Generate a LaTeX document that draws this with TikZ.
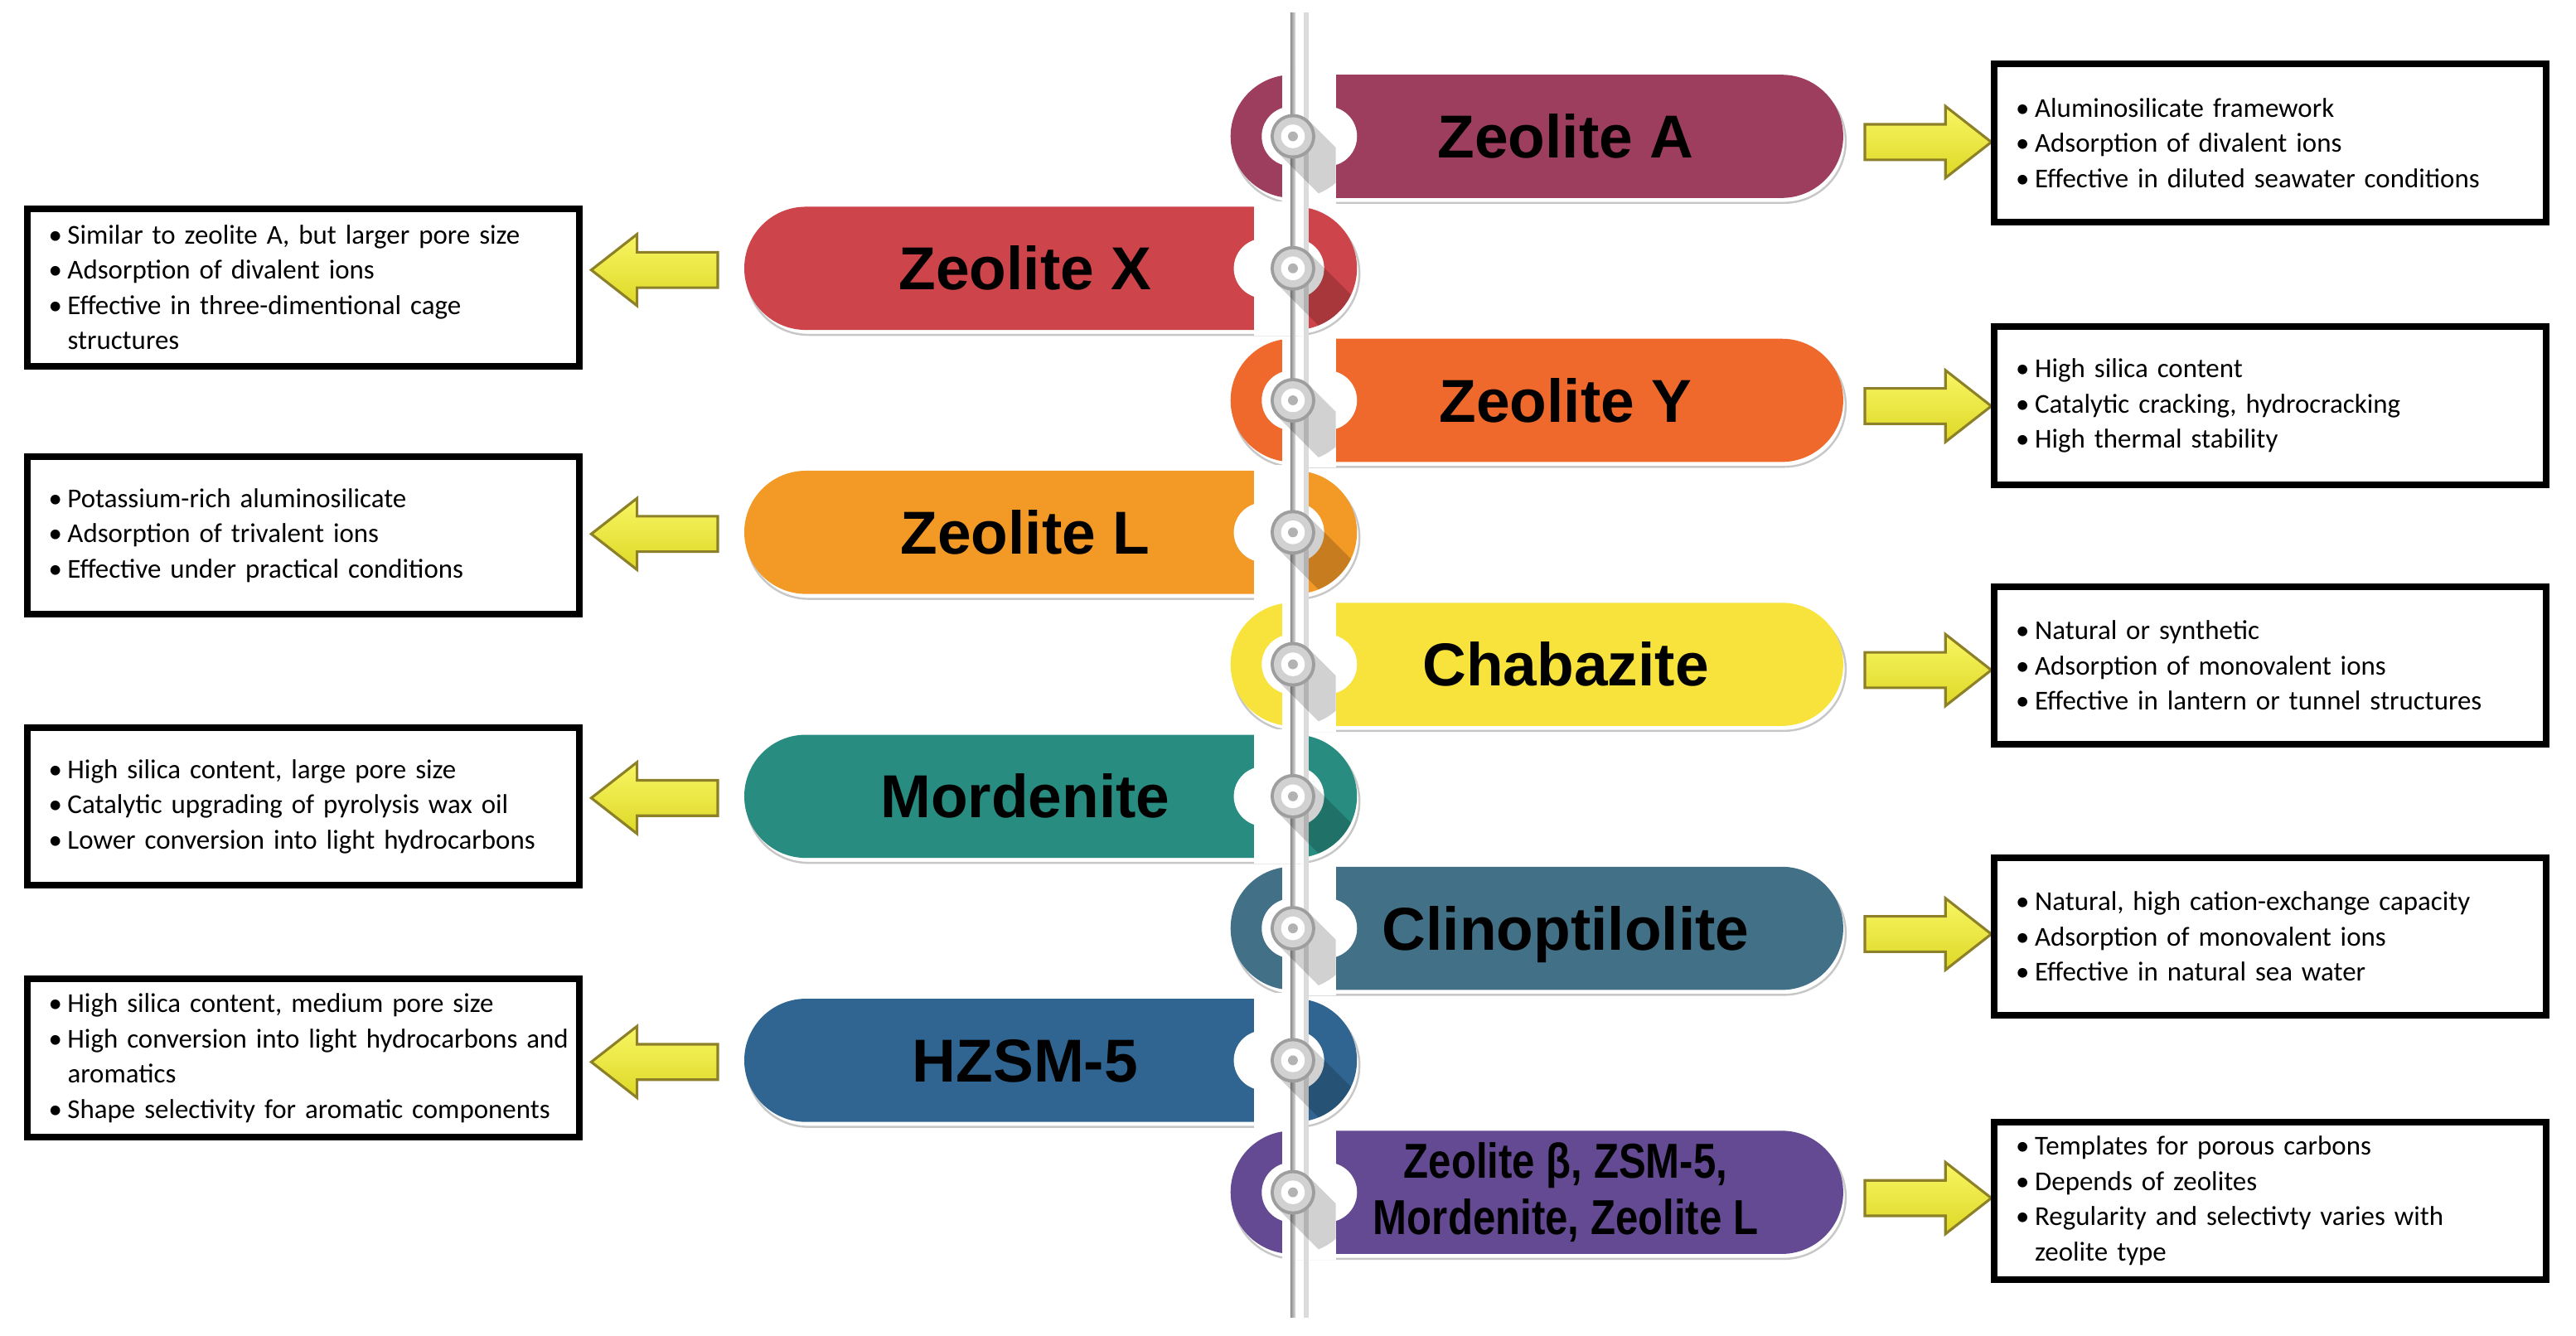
\documentclass[tikz,border=0pt]{standalone}
\usepackage{fontspec}
\setmainfont{Carlito}
\newfontfamily\titlefont{Liberation Sans}
\usepackage{tikz}
\usetikzlibrary{calc}
\usetikzlibrary{shapes.misc}
\usetikzlibrary{shapes.arrows}
\usetikzlibrary{positioning}

\definecolor{zeoA}{RGB}{158,62,94}
\definecolor{zeoX}{RGB}{205,68,74}
\definecolor{zeoY}{RGB}{238,105,43}
\definecolor{zeoL}{RGB}{243,153,38}
\definecolor{zeoC}{RGB}{248,226,60}
\definecolor{zeoM}{RGB}{40,140,128}
\definecolor{zeoN}{RGB}{66,112,134}
\definecolor{zeoH}{RGB}{47,101,144}
\definecolor{zeoB}{RGB}{99,74,146}
\definecolor{arrowtop}{RGB}{248,246,100}
\definecolor{arrowbot}{RGB}{222,216,38}
\definecolor{arrowedge}{RGB}{140,128,40}

% bullet lines of the boxes
\newcommand{\itm}[1]{\mbox{\textbullet\hspace{0.2em}#1}}
\newcommand{\cnt}[1]{\mbox{\phantom{\textbullet\hspace{0.2em}}#1}}
% white gap round the knob: stadium between two centres
\newcommand{\bite}[3]{\fill[white] (#1,#3-18.2) -- (#2,#3-18.2)
  arc[start angle=-90,end angle=90,radius=18.2] -- (#1,#3+18.2)
  arc[start angle=90,end angle=270,radius=18.2] -- cycle;}

\begin{document}
\begin{tikzpicture}
  [
    x=0.02cm, y=-0.02cm,
    pill/.style      = {rounded rectangle, minimum width=7.46cm, minimum height=1.5cm, inner sep=0pt},
    pillshade/.style = {pill, draw=black!22, line width=0.7pt, fill=white},
    title/.style     = {font=\titlefont\bfseries\fontsize{21}{24}\selectfont, text height=15pt, text depth=0pt, inner sep=0pt},
    infobox/.style   = {draw, line width=2.3pt, text width=6.2cm, minimum height=1.92cm, inner xsep=0.26cm, align=left, font=\fontsize{9.45}{12.2}\selectfont},
    toright/.style   = {single arrow, single arrow tip angle=76, single arrow head extend=0.22cm, minimum height=1.54cm, inner xsep=0pt, inner ysep=0.2cm, draw=arrowedge, line width=0.9pt, top color=arrowtop, bottom color=arrowbot},
    toleft/.style    = {toright, shape border rotate=180},
    knobshadow/.style= {fill=black, opacity=0.18},
  ]

  \useasboundingbox (0,0) rectangle (1568,813);

  \def\top{83}
  \def\gap{80.35}
  \def\knobx{787}

  % right hand pills
  \foreach \k/\nm/\col in {0/A/zeoA, 2/Y/zeoY, 4/C/zeoC, 6/N/zeoN, 8/B/zeoB}
  {
    \pgfmathsetmacro\cy{\top+\gap*\k}
    \node[pillshade] at (937,\cy+3) {};
    \node[pill, fill=\col] (z\nm) at (935.5,\cy) {};
    \fill[white] (780.5,\cy-41) rectangle (813,\cy+41);
    \bite{786.2}{807.8}{\cy}
  }

  % left hand pills
  \foreach \k/\nm/\col in {1/X/zeoX, 3/L/zeoL, 5/M/zeoM, 7/H/zeoH}
  {
    \pgfmathsetmacro\cy{\top+\gap*\k}
    \node[pillshade] at (641,\cy+3) {};
    \node[pill, fill=\col] (z\nm) at (639.5,\cy) {};
    \fill[white] (763.5,\cy-41) rectangle (795.5,\cy+41);
    \bite{769.2}{787.8}{\cy}
  }

  % the tube
  \fill[left color=black!45, right color=black!12] (785.5,7.6) rectangle (788.6,802);
  \fill[black!14] (793.5,7.6) rectangle (796.5,802);

  % knobs with their long shadows
  \foreach \k in {0,...,8}
  {
    \pgfmathsetmacro\cy{\top+\gap*\k}
    \pgfmathsetmacro\xlim{isodd(\k) ? 830 : 813}
    \begin{scope}
      \clip (788.6,\cy) circle[radius=37.4];
      \clip (770,\cy-40) rectangle (\xlim,\cy+40);
      \fill[knobshadow] (\knobx+9.6,\cy-9.6) -- ++(40,40) -- ++(-19.2,19.2) -- ++(-40,-40) -- cycle;
    \end{scope}
    \fill[black!38] (\knobx,\cy) circle[radius=13.6];
    \fill[black!18] (\knobx,\cy) circle[radius=11.6];
    \fill[white]    (\knobx,\cy) circle[radius=7.2];
    \fill[black!30] (\knobx,\cy) circle[radius=3];
  }

  % titles
  \node[title] (tA) at ([xshift=0.35cm]zA.center) {Zeolite A};
  \node[title] (tY) at ([xshift=0.35cm]zY.center) {Zeolite Y};
  \node[title] (tC) at ([xshift=0.35cm]zC.center) {Chabazite};
  \node[title] (tN) at ([xshift=0.35cm]zN.center) {Clinoptilolite};
  \node[title, font=\titlefont\bfseries\fontsize{17}{19.4}\selectfont, text height=, text depth=, align=center]
    (tB) at ([xshift=0.35cm]zB.center)
    {\scalebox{0.83}[1]{Zeolite β, ZSM-5,}\\\scalebox{0.83}[1]{Mordenite, Zeolite L}};
  \node[title] (tX) at ([xshift=-0.31cm]zX.center) {Zeolite X};
  \node[title] (tL) at ([xshift=-0.31cm]zL.center) {Zeolite L};
  \node[title] (tM) at ([xshift=-0.31cm]zM.center) {Mordenite};
  \node[title] (tH) at ([xshift=-0.31cm]zH.center) {HZSM-5};

  % yellow arrows
  \foreach \nm in {A,Y,C,N,B}
    \node[toright, right=0.24cm of z\nm.east, yshift=-0.07cm] (a\nm) {};
  \foreach \nm in {X,L,M,H}
    \node[toleft, left=0.3cm of z\nm.west, yshift=-0.02cm] (a\nm) {};

  % boxes
  \node[infobox] (bA) at (1382,87)
    {\itm{Aluminosilicate framework}\\
     \itm{Adsorption of divalent ions}\\
     \itm{Effective in diluted seawater conditions}};
  \node[infobox] (bY) at (1382,247)
    {\itm{High silica content}\\
     \itm{Catalytic cracking, hydrocracking}\\
     \itm{High thermal stability}};
  \node[infobox] (bC) at (1382,405)
    {\itm{Natural or synthetic}\\
     \itm{Adsorption of monovalent ions}\\
     \itm{Effective in lantern or tunnel structures}};
  \node[infobox] (bN) at (1382,570)
    {\itm{Natural, high cation-exchange capacity}\\
     \itm{Adsorption of monovalent ions}\\
     \itm{Effective in natural sea water}};
  \node[infobox] (bB) at (1382,731)
    {\itm{Templates for porous carbons}\\
     \itm{Depends of zeolites}\\
     \itm{Regularity and selectivty varies with}\\
     \cnt{zeolite type}};
  \node[infobox] (bX) at (184.5,175)
    {\itm{Similar to zeolite A, but larger pore size}\\
     \itm{Adsorption of divalent ions}\\
     \itm{Effective in three-dimentional cage}\\
     \cnt{structures}};
  \node[infobox] (bL) at (184.5,326)
    {\itm{Potassium-rich aluminosilicate}\\
     \itm{Adsorption of trivalent ions}\\
     \itm{Effective under practical conditions}};
  \node[infobox] (bM) at (184.5,491)
    {\itm{High silica content, large pore size}\\
     \itm{Catalytic upgrading of pyrolysis wax oil}\\
     \itm{Lower conversion into light hydrocarbons}};
  \node[infobox] (bH) at (184.5,644)
    {\itm{High silica content, medium pore size}\\
     \itm{High conversion into light hydrocarbons and}\\
     \cnt{aromatics}\\
     \itm{Shape selectivity for aromatic components}};

\end{tikzpicture}
\end{document}
